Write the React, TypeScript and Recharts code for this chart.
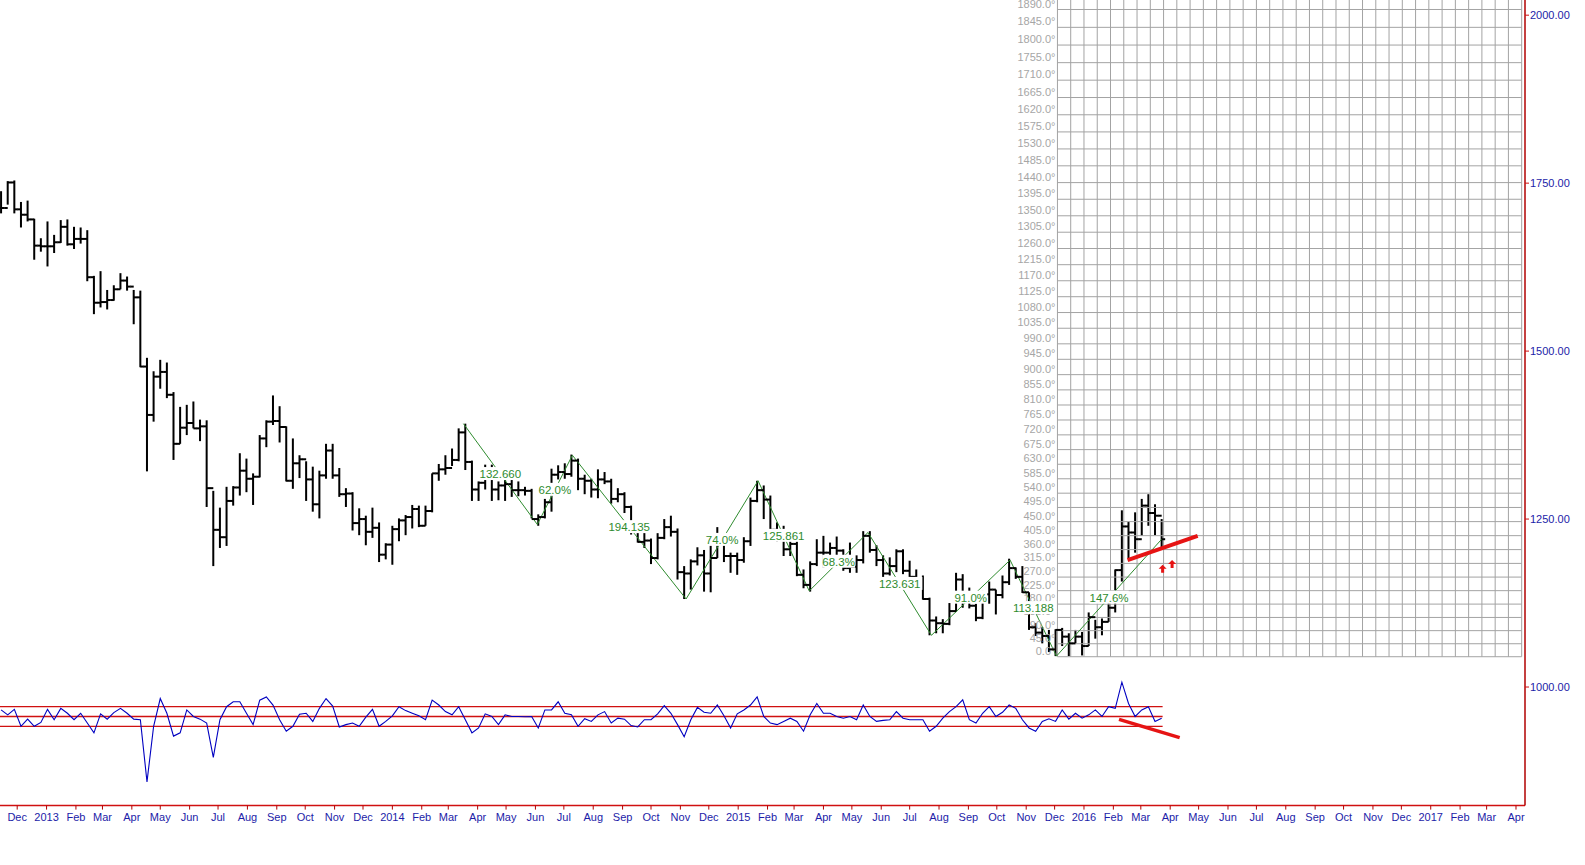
import React from "react"
import { ComposedChart, XAxis, YAxis, Bar, Line, Scatter, ReferenceLine } from "recharts"

const DAY = 86400000
const dayNum = (s: string) => Math.round(Date.parse(s + "T00:00:00Z") / DAY)

// weekly bars, first week starting Monday
const firstWeek = "2012-11-12"

const highs = [
  1738, 1753, 1754, 1722, 1724, 1697, 1668, 1693, 1673, 1695,
  1696, 1685, 1684, 1680, 1612, 1619, 1591, 1598, 1616, 1611,
  1591, 1590, 1490, 1470, 1487, 1483, 1439, 1417, 1420, 1425,
  1398, 1397, 1292, 1267, 1298, 1299, 1348, 1340, 1318, 1375,
  1397, 1434, 1418, 1388, 1370, 1345, 1336, 1328, 1322, 1362,
  1362, 1326, 1296, 1290, 1266, 1255, 1267, 1245, 1214, 1240,
  1251, 1256, 1271, 1270, 1270, 1318, 1332, 1345, 1355, 1385,
  1392, 1337, 1306, 1331, 1331, 1306, 1315, 1315, 1306, 1298,
  1295, 1257, 1280, 1325, 1330, 1333, 1346, 1340, 1316, 1310,
  1324, 1320, 1310, 1296, 1290, 1270, 1238, 1236, 1221, 1229,
  1250, 1255, 1236, 1180, 1190, 1208, 1204, 1221, 1238, 1223,
  1200, 1200, 1223, 1282, 1307, 1300, 1285, 1245, 1240, 1220,
  1220, 1175, 1187, 1220, 1225, 1215, 1224, 1205, 1215, 1196,
  1232, 1232, 1211, 1196, 1193, 1205, 1205, 1188, 1175, 1166,
  1133, 1105, 1101, 1125, 1170, 1168, 1148, 1124, 1143, 1157,
  1145, 1166, 1191, 1178, 1180, 1141, 1095, 1089, 1085, 1086,
  1088, 1080, 1085, 1082, 1111, 1100, 1102, 1126, 1175, 1263,
  1246, 1260, 1280, 1287, 1272, 1250,
]

const lows = [
  1705, 1718, 1705, 1684, 1693, 1636, 1648, 1626, 1646, 1661,
  1657, 1652, 1660, 1604, 1555, 1565, 1562, 1575, 1592, 1590,
  1540, 1476, 1321, 1395, 1444, 1430, 1338, 1362, 1375, 1385,
  1366, 1268, 1180, 1207, 1210, 1270, 1285, 1290, 1271, 1312,
  1357, 1390, 1364, 1306, 1295, 1311, 1277, 1261, 1251, 1310,
  1310, 1283, 1268, 1233, 1226, 1211, 1222, 1186, 1190, 1182,
  1217, 1226, 1236, 1238, 1240, 1260, 1307, 1316, 1329, 1336,
  1323, 1277, 1277, 1294, 1277, 1278, 1277, 1283, 1284, 1285,
  1251, 1240, 1251, 1261, 1309, 1310, 1313, 1293, 1287, 1282,
  1281, 1302, 1273, 1275, 1259, 1227, 1215, 1207, 1183, 1190,
  1220, 1224, 1160, 1131, 1145, 1181, 1142, 1141, 1192, 1186,
  1170, 1167, 1185, 1210, 1275, 1250, 1232, 1216, 1195, 1195,
  1165, 1147, 1142, 1180, 1178, 1186, 1191, 1173, 1170, 1170,
  1184, 1200, 1180, 1162, 1166, 1171, 1168, 1162, 1147, 1130,
  1077, 1080, 1080, 1092, 1112, 1118, 1117, 1098, 1101, 1124,
  1108, 1132, 1152, 1161, 1140, 1085, 1076, 1065, 1052, 1046,
  1061, 1046, 1065, 1047, 1061, 1072, 1077, 1097, 1111, 1157,
  1191, 1200, 1225, 1240, 1226, 1208,
]

const closes = [
  1713, 1751, 1711, 1703, 1696, 1657, 1656, 1656, 1662, 1685,
  1659, 1667, 1667, 1610, 1572, 1573, 1576, 1592, 1605, 1596,
  1580, 1477, 1405, 1462, 1469, 1435, 1362, 1386, 1393, 1385,
  1388, 1296, 1234, 1223, 1277, 1297, 1322, 1310, 1313, 1370,
  1395, 1396, 1387, 1307, 1333, 1339, 1309, 1272, 1315, 1352,
  1315, 1287, 1288, 1244, 1250, 1231, 1237, 1197, 1212, 1235,
  1248, 1253, 1265, 1240, 1262, 1318, 1324, 1326, 1338, 1379,
  1335, 1294, 1304, 1318, 1294, 1300, 1302, 1293, 1293, 1292,
  1250, 1253, 1275, 1316, 1320, 1317, 1337, 1310, 1307, 1294,
  1309, 1306, 1280, 1287, 1268, 1231, 1216, 1218, 1192, 1222,
  1238, 1231, 1171, 1169, 1187, 1196, 1169, 1192, 1223, 1195,
  1195, 1189, 1217, 1277, 1293, 1279, 1234, 1228, 1205, 1213,
  1167, 1152, 1183, 1200, 1200, 1207, 1203, 1177, 1179, 1189,
  1225, 1204, 1189, 1169, 1180, 1202, 1173, 1164, 1157, 1131,
  1099, 1095, 1094, 1113, 1160, 1134, 1121, 1103, 1138, 1145,
  1137, 1156, 1177, 1164, 1141, 1089, 1081, 1076, 1056, 1085,
  1075, 1065, 1075, 1061, 1104, 1089, 1097, 1118, 1174, 1239,
  1230, 1220, 1270, 1259, 1255, 1220,
]

// oscillator (CCI-like), same weeks
const osc = [
  67, 17, 73, -100, -27, -100, -60, 73, -33, 83,
  33, -33, 33, -67, -167, 27, -27, 40, 83, 33,
  -27, -33, -667, -100, 183, 33, -200, -167, 67, 0,
  -27, -67, -417, -33, 100, 150, 150, 33, -83, 167,
  200, 117, -33, -150, -100, 23, 33, -50, 83, 183,
  107, -107, -83, -67, -100, -7, 73, -100, -50, 7,
  100, 60, 33, 7, -33, 167, 117, 50, 17, 100,
  -33, -167, -117, 27, 0, -83,
  17, 0, 0, -3, 0, -117, 67, 67, 150, 33,
  17, -100, -23, -50, 17, 50, -67, -17, -27, -93,
  -107, -33, -33, 27, 110, 33, -83, -207, -33, 93,
  43, 33, 117, 7, -117, 27, 67, 117, 200, 0,
  -67, -83, -50, -17, -50, -150, 17, 133, 33, 33,
  0, -17, 0, -33, 117, 0, -50, -40, -33, 50,
  -17, -33, -33, -33, -150, -100, -17, 50, 100, 170,
  -33, -67, 33, 100, 0,
  43, 117, 83, -33, -117, -150, -50, -23, -50, 67,
  -27, 33, -17, 17, 67, 0, 100, 83, 350, 133,
  0, 67, 100, -50, -17,
]
const oscLevels = [100, 0, -100]

// zigzag
const zigDates = ["2014-03-17", "2014-06-03", "2014-07-10", "2014-11-07", "2015-01-22", "2015-03-17", "2015-05-18", "2015-07-24", "2015-10-15", "2015-12-03", "2016-03-23"]
const zigPrices = [1392, 1242, 1345, 1131, 1307, 1143, 1230, 1077, 1189, 1046, 1220]
const zigLabels = ["132.660", "62.0%", "194.135", "74.0%", "125.861", "68.3%", "123.631", "91.0%", "113.188", "147.6%"]

// gann grid
const gannStart = "2015-12-04"
const gannColumns = 35
const gannDays = 14
const gannBase = 1045.1
const gannTop = 1890
const degrees = [
  0, 45, 90, 135, 180, 225, 270, 315, 360, 405, 450, 495, 540, 585, 630, 675, 720, 765, 810, 855,
  900, 945, 990, 1035, 1080, 1125, 1170, 1215, 1260, 1305, 1350, 1395, 1440, 1485, 1530, 1575,
  1620, 1665, 1710, 1755, 1800, 1845, 1890,
]

// drawn annotations
const trendDates = ["2016-02-16", "2016-04-30"]
const trendPrices = [1189, 1225]
const oscTrendDates = ["2016-02-07", "2016-04-11"]
const oscTrendValues = [-29, -216]
const arrowDates = ["2016-03-24", "2016-04-03"]
const arrowPrices = [1176, 1183]

const priceTicks = [1000, 1250, 1500, 1750, 2000]
const monthNames = ["Jan", "Feb", "Mar", "Apr", "May", "Jun", "Jul", "Aug", "Sep", "Oct", "Nov", "Dec"]

const Y_MIN = 823.5
const Y_MAX = 2022.6
const dec2012 = dayNum("2012-12-01")
const X_MIN = dec2012 - 18.15
const X_MAX = dec2012 + 1591.5

const w0 = dayNum(firstWeek)
const rows = highs.map((h, i) => ({
  t: w0 + 7 * i + 2,
  high: h,
  low: lows[i],
  close: closes[i],
  open: i ? closes[i - 1] : closes[i],
  osc: osc[i],
}))
const lastT = rows[rows.length - 1].t

const monthTicks: number[] = []
for (let y = 2012, m = 11; y < 2017 || (y === 2017 && m <= 3); m++) {
  if (m > 11) { m = 0; y++ }
  monthTicks.push(Math.round(Date.UTC(y, m, 1) / DAY))
}
const fmtMonth = (v: number) => {
  const d = new Date(v * DAY)
  return d.getUTCMonth() === 0 ? String(d.getUTCFullYear()) : monthNames[d.getUTCMonth()]
}

const gannPrice = (deg: number) => (Math.sqrt(gannBase) + (deg * 12.488) / gannTop) ** 2
const gS = dayNum(gannStart)
const gE = gS + gannColumns * gannDays
const gannCols = Array.from({ length: gannColumns + 1 }, (_, k) => gS + k * gannDays)
const degLabels = degrees.map((d) => ({ t: gS, y: gannPrice(d), label: d.toFixed(1) + "\u00b0" }))

const zig = zigDates.map((d, i) => ({ t: dayNum(d), y: zigPrices[i] }))
const zigMids = zigLabels.map((label, i) => ({
  t: (zig[i].t + zig[i + 1].t) / 2,
  y: (zig[i].y + zig[i + 1].y) / 2,
  label,
}))
const arrows = arrowDates.map((d, i) => ({ t: dayNum(d), y: arrowPrices[i] }))

const FONT = '"Liberation Sans", Arial, sans-serif'
const AXIS_RED = "#b00000"
const BLUE_TEXT = "#1c1ca8"
const GRID = "#a3a3a3"
const GREEN = "#2e8b2e"

// high-low stick: fixed 2px width, centred on the bar slot recharts computes
const HiLo = (p: any) => {
  if (p.height == null || p.x == null) return null
  const cx = p.x + p.width / 2
  const top = Math.min(p.y, p.y + p.height)
  const h = Math.max(Math.abs(p.height), 1)
  return <rect x={cx - 1} y={top} width={2} height={h} fill="#000" />
}

export default function App() {
  return (
    <div style={{ position: "absolute", left: 0, top: 0, width: 1585, height: 865, background: "#fff" }}>
      <ComposedChart
        width={1585}
        height={865}
        data={rows}
        margin={{ top: 0, right: 0, bottom: 29.4, left: 0 }}
        style={{ fontFamily: FONT }}
      >
        <XAxis
          type="number"
          dataKey="t"
          domain={[X_MIN, X_MAX]}
          allowDataOverflow
          ticks={monthTicks}
          interval={0}
          tickFormatter={fmtMonth}
          height={30}
          tickSize={4}
          tickMargin={4}
          stroke={AXIS_RED}
          axisLine={{ stroke: "#d01010", strokeWidth: 1.5 }}
          tickLine={{ stroke: AXIS_RED }}
          tick={{ fill: BLUE_TEXT, fontSize: 11, fontFamily: FONT }}
        />
        <YAxis
          yAxisId="price"
          orientation="right"
          width={60}
          domain={[Y_MIN, Y_MAX]}
          allowDataOverflow
          ticks={priceTicks}
          interval={0}
          tickFormatter={(v: number) => v.toFixed(2)}
          tickSize={4}
          tickMargin={1}
          axisLine={{ stroke: AXIS_RED, strokeWidth: 1.5 }}
          tickLine={{ stroke: "#d01010" }}
          tick={{ fill: BLUE_TEXT, fontSize: 11, fontFamily: FONT, textAnchor: "start" }}
        />
        <YAxis yAxisId="osc" hide domain={[-909.2, 7311.2]} allowDataOverflow />

        {gannCols.map((t) => (
          <ReferenceLine
            key={"gc" + t}
            yAxisId="price"
            segment={[{ x: t, y: gannPrice(0) }, { x: t, y: Y_MAX }]}
            stroke={GRID}
            strokeWidth={1}
            ifOverflow="hidden"
          />
        ))}
        {degrees.map((d) => (
          <ReferenceLine
            key={"gr" + d}
            yAxisId="price"
            segment={[{ x: gS, y: gannPrice(d) }, { x: gE, y: gannPrice(d) }]}
            stroke={GRID}
            strokeWidth={1}
            ifOverflow="hidden"
          />
        ))}
        <Scatter
          yAxisId="price"
          data={degLabels}
          dataKey="y"
          isAnimationActive={false}
          shape={(p: any) => (
            <text x={p.cx - 2} y={p.cy - 2} textAnchor="end" fontSize={11} fontFamily={FONT} fill="#a6a6a6">
              {p.payload.label}
            </text>
          )}
        />

        {oscLevels.map((v) => (
          <ReferenceLine
            key={"ol" + v}
            yAxisId="osc"
            segment={[{ x: X_MIN, y: v }, { x: lastT + 1, y: v }]}
            stroke="#d01010"
            strokeWidth={1.3}
            ifOverflow="hidden"
          />
        ))}
        <Line
          yAxisId="osc"
          dataKey="osc"
          type="linear"
          stroke="#0000c0"
          strokeWidth={1.1}
          dot={false}
          activeDot={false}
          isAnimationActive={false}
        />

        <Bar
          yAxisId="price"
          dataKey={(d: any) => [d.low, d.high]}
          barSize={2}
          fill="#000"
          shape={HiLo}
          isAnimationActive={false}
        />
        <Scatter
          yAxisId="price"
          dataKey="open"
          isAnimationActive={false}
          shape={(p: any) => <line x1={p.cx - 3.5} x2={p.cx} y1={p.cy} y2={p.cy} stroke="#000" strokeWidth={2} />}
        />
        <Scatter
          yAxisId="price"
          dataKey="close"
          isAnimationActive={false}
          shape={(p: any) => <line x1={p.cx} x2={p.cx + 3.5} y1={p.cy} y2={p.cy} stroke="#000" strokeWidth={2} />}
        />

        <Line
          yAxisId="price"
          data={zig}
          dataKey="y"
          type="linear"
          stroke={GREEN}
          strokeWidth={1}
          dot={false}
          activeDot={false}
          isAnimationActive={false}
        />
        <Scatter
          yAxisId="price"
          data={zigMids}
          dataKey="y"
          isAnimationActive={false}
          shape={(p: any) => {
            const w = p.payload.label.length * 6.2 + 2
            return (
              <g>
                <rect x={p.cx - w / 2} y={p.cy - 7} width={w} height={13} fill="#fff" />
                <text x={p.cx} y={p.cy + 4} textAnchor="middle" fontSize={11.5} fontFamily={FONT} fill={GREEN}>
                  {p.payload.label}
                </text>
              </g>
            )
          }}
        />

        <ReferenceLine
          yAxisId="price"
          segment={[
            { x: dayNum(trendDates[0]), y: trendPrices[0] },
            { x: dayNum(trendDates[1]), y: trendPrices[1] },
          ]}
          stroke="#e61414"
          strokeWidth={4}
        />
        <ReferenceLine
          yAxisId="osc"
          segment={[
            { x: dayNum(oscTrendDates[0]), y: oscTrendValues[0] },
            { x: dayNum(oscTrendDates[1]), y: oscTrendValues[1] },
          ]}
          stroke="#e61414"
          strokeWidth={3.5}
        />
        <Scatter
          yAxisId="price"
          data={arrows}
          dataKey="y"
          isAnimationActive={false}
          shape={(p: any) => (
            <path
              d={`M${p.cx},${p.cy - 4} L${p.cx + 4},${p.cy} L${p.cx + 1.5},${p.cy} L${p.cx + 1.5},${p.cy + 4} L${p.cx - 1.5},${p.cy + 4} L${p.cx - 1.5},${p.cy} L${p.cx - 4},${p.cy} Z`}
              fill="#e61414"
            />
          )}
        />
      </ComposedChart>
    </div>
  )
}
